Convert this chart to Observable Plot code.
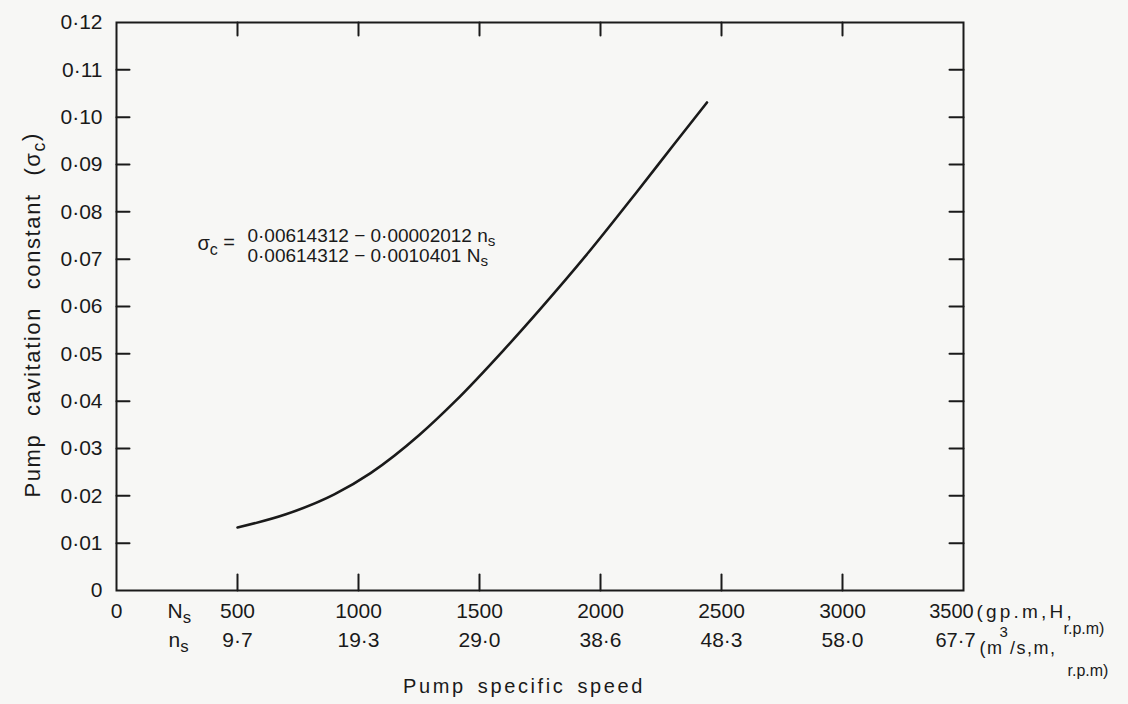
<!DOCTYPE html>
<html><head><meta charset="utf-8">
<script src="https://cdn.jsdelivr.net/npm/d3@7"></script>
<script src="https://cdn.jsdelivr.net/npm/@observablehq/plot@0.6"></script>
<style>
body{margin:0;background:#f7f7f5;}
#chart svg{background:#f7f7f5;}
</style>
</head><body><div id="chart"></div>
<script>
// ---- data ----
const specificSpeed = [500, 700, 900, 1050, 1250, 1400, 1600, 1750, 1950, 2150, 2300, 2440];
const cavitationConstant = [0.0133, 0.0161, 0.0203, 0.0248, 0.0328, 0.0400, 0.0508, 0.0594, 0.0714, 0.0842, 0.0940, 0.1031];

const xTicks = [500, 1000, 1500, 2000, 2500, 3000];
const NsTickLabels = ["500", "1000", "1500", "2000", "2500", "3000"];
const nsTickLabels = ["9·7", "19·3", "29·0", "38·6", "48·3", "58·0"];
const xEndValue = 3500;
const NsEndLabel = "3500";
const NsEndUnits = "(gp.m,H,";
const nsEndLabel = "67·7";

const yTicks = [0.01, 0.02, 0.03, 0.04, 0.05, 0.06, 0.07, 0.08, 0.09, 0.10, 0.11];
const yLabelValues = [0, 0.01, 0.02, 0.03, 0.04, 0.05, 0.06, 0.07, 0.08, 0.09, 0.10, 0.11, 0.12];
const yLabelTexts = ["0", "0·01", "0·02", "0·03", "0·04", "0·05", "0·06", "0·07", "0·08", "0·09", "0·10", "0·11", "0·12"];

const formulaLines = ["0·00614312 − 0·00002012 n_s", "0·00614312 − 0·0010401 N_s"];
const formulaLead = "σ_c =";
const formulaAt = [{x: 541, y: 0.0729}];

const xTitle = "Pump specific speed";
const yTitle = "Pump cavitation constant (σ_c)";

// ---- build ----
const curve = specificSpeed.map((x, i) => ({x, y: cavitationConstant[i]}));
const xLabelRows = xTicks.map((x, i) => ({x, N: NsTickLabels[i], n: nsTickLabels[i]}));
const yLabels = yLabelValues.map((v, i) => ({v, t: yLabelTexts[i]}));
const tickShape = {draw(ctx, l) { ctx.moveTo(0, 0); ctx.lineTo(0, -l); }};
const font = "Liberation Sans, Arial, sans-serif";
const ink = "#1a1a1a";

const chart = Plot.plot({
  width: 1128, height: 704,
  marginLeft: 116, marginRight: 165, marginTop: 22, marginBottom: 114,
  style: {fontFamily: font, background: "#f7f7f5", color: ink},
  x: {domain: [0, 3500], axis: null},
  y: {domain: [0, 0.12], axis: null},
  marks: [
    Plot.frame({stroke: ink, strokeWidth: 2}),
    // inward ticks
    Plot.vector(yTicks, {x: 0, y: d => d, length: 13, rotate: 90, anchor: "start", shape: tickShape, stroke: ink, strokeWidth: 2}),
    Plot.vector(yTicks, {x: xEndValue, y: d => d, length: 14, rotate: -90, anchor: "start", shape: tickShape, stroke: ink, strokeWidth: 2}),
    Plot.vector(xTicks, {x: d => d, y: 0.12, length: 13, rotate: 180, anchor: "start", shape: tickShape, stroke: ink, strokeWidth: 2}),
    Plot.vector(xTicks, {x: d => d, y: 0, length: 16, rotate: 0, anchor: "start", shape: tickShape, stroke: ink, strokeWidth: 2}),
    // curve
    Plot.line(curve, {x: "x", y: "y", curve: "monotone-x", stroke: ink, strokeWidth: 2.6}),
    // y tick labels
    Plot.text(yLabels, {x: 0, y: "v", text: "t", textAnchor: "end", dx: -14, fontSize: 21, fill: ink}),
    // x tick labels
    Plot.text([{x: 0}], {x: "x", y: 0, text: () => "0", dy: 21, fontSize: 21, fill: ink}),
    Plot.text(xLabelRows, {x: "x", y: 0, text: "N", dy: 21, fontSize: 21, fill: ink}),
    Plot.text(xLabelRows, {x: "x", y: 0, text: "n", dy: 50, fontSize: 21, fill: ink}),
    Plot.text([{x: 0}], {x: "x", y: 0, text: () => "N_s", dx: 51, dy: 21, fontSize: 21, textAnchor: "start", fill: ink}),
    Plot.text([{x: 0}], {x: "x", y: 0, text: () => "n_s", dx: 52, dy: 50, fontSize: 21, textAnchor: "start", fill: ink}),
    Plot.text([{x: xEndValue}], {x: "x", y: 0, text: () => NsEndLabel, dx: -12, dy: 21, fontSize: 20, fill: ink}),
    Plot.text([{x: xEndValue}], {x: "x", y: 0, text: () => NsEndUnits, dx: 13, dy: 21, fontSize: 19, textAnchor: "start", fill: ink, className: "units1"}),
    Plot.text([{x: xEndValue}], {x: "x", y: 0, text: () => nsEndLabel, dx: -28, dy: 50, fontSize: 20, textAnchor: "start", fill: ink}),
    Plot.text([{x: xEndValue}], {x: "x", y: 0, text: () => "r.p.m)", dx: 100, dy: 38, fontSize: 16, textAnchor: "start", fill: ink}),
    Plot.text([{x: xEndValue}], {x: "x", y: 0, text: () => "3", dx: 36, dy: 42, fontSize: 15, textAnchor: "start", fill: ink}),
    Plot.text([{x: xEndValue}], {x: "x", y: 0, text: () => "(m /s,m,", dx: 16, dy: 58, fontSize: 18, textAnchor: "start", fill: ink, className: "units2"}),
    Plot.text([{x: xEndValue}], {x: "x", y: 0, text: () => "r.p.m)", dx: 104, dy: 80, fontSize: 16, textAnchor: "start", fill: ink}),
    // axis titles
    Plot.text([xTitle], {frameAnchor: "bottom", text: d => d, dx: -16, dy: 102, fontSize: 20, fill: ink, className: "xtitle"}),
    Plot.text([yTitle], {frameAnchor: "left", text: d => d, rotate: -90, textAnchor: "start", dx: -84, dy: 191, fontSize: 22, fill: ink, className: "ytitle"}),
    // formula
    Plot.text(formulaAt, {x: "x", y: "y", text: () => formulaLines[0], dy: -10, fontSize: 19, textAnchor: "start", fill: ink}),
    Plot.text(formulaAt, {x: "x", y: "y", text: () => formulaLines[1], dy: 10, fontSize: 19, textAnchor: "start", fill: ink}),
    Plot.text(formulaAt, {x: "x", y: "y", text: () => formulaLead, dx: -50, dy: -2, fontSize: 20, textAnchor: "start", fill: ink})
  ]
});

// subscripts: "_x" -> subscript tspan
chart.querySelectorAll("text").forEach(t => {
  if (t.children.length) return;
  const s = t.textContent;
  if (!s.includes("_")) return;
  t.textContent = "";
  const parts = s.split(/_(.)/);
  const ns = "http://www.w3.org/2000/svg";
  parts.forEach((p, i) => {
    if (!p) return;
    const sp = document.createElementNS(ns, "tspan");
    sp.textContent = p;
    if (i % 2 === 1) { sp.setAttribute("dy", "0.3em"); sp.setAttribute("font-size", "80%"); }
    else if (i > 0) { sp.setAttribute("dy", "-0.3em"); }
    t.appendChild(sp);
  });
});
chart.querySelectorAll(".ytitle text").forEach(t => { t.style.letterSpacing = "1.6px"; t.style.wordSpacing = "10px"; });
chart.querySelectorAll(".xtitle text").forEach(t => { t.style.letterSpacing = "2.6px"; t.style.wordSpacing = "4px"; });
chart.querySelectorAll(".units1 text").forEach(t => { t.style.letterSpacing = "3.2px"; });
chart.querySelectorAll(".units2 text").forEach(t => { t.style.letterSpacing = "1.5px"; });
document.getElementById("chart").appendChild(chart);
</script>
</body></html>
